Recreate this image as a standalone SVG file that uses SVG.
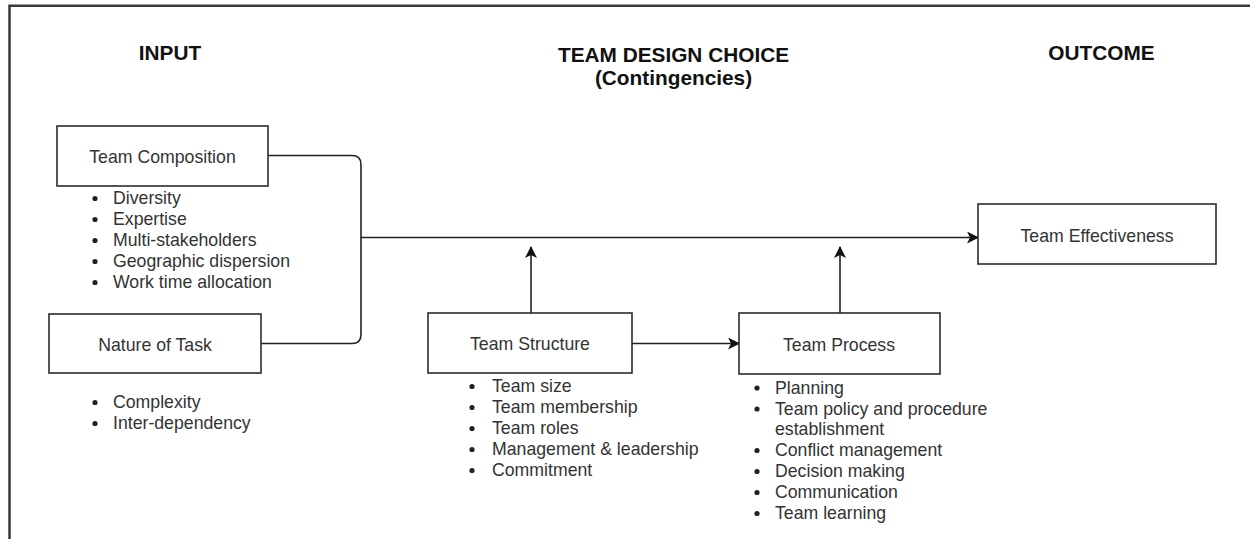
<svg xmlns="http://www.w3.org/2000/svg" width="1250" height="539" viewBox="0 0 1250 539">
  <style>
    .frame { fill: none; stroke: #3a3a3a; stroke-width: 2.5; }
    .box { fill: #ffffff; stroke: #2b2b2b; stroke-width: 1.6; }
    .head { font-family: "Liberation Sans", Arial, sans-serif; font-weight: bold; font-size: 20.8px; fill: #111111; text-anchor: middle; }
    .label { font-family: "Liberation Sans", Arial, sans-serif; font-size: 17.7px; fill: #333333; text-anchor: middle; }
    .item { font-family: "Liberation Sans", Arial, sans-serif; font-size: 17.7px; fill: #333333; }
    .dot { fill: #222222; }
    .link { fill: none; stroke: #222222; stroke-width: 1.6; }
  </style>
  <defs>
    <marker id="arrow" viewBox="0 0 12 12" refX="11" refY="6" markerWidth="12" markerHeight="12" markerUnits="userSpaceOnUse" orient="auto">
      <path d="M0,0 L12,6 L0,12 L3,6 Z" fill="#111111"/>
    </marker>
  </defs>

  <rect x="0" y="0" width="1250" height="539" fill="#ffffff"/>
  <!-- outer frame: top and left edges -->
  <path class="frame" d="M9.5,539 V5.8 H1250"/>

  <!-- column headings -->
  <g id="headings">
    <text class="head" x="170" y="60">INPUT</text>
    <text class="head" x="673.5" y="61.5">TEAM DESIGN CHOICE</text>
    <text class="head" x="673.5" y="84.5">(Contingencies)</text>
    <text class="head" x="1101.5" y="60">OUTCOME</text>
  </g>

  <!-- connectors -->
  <g id="connectors">
    <path class="link" d="M268,155.5 H352 Q361,155.5 361,164.5 V334.5 Q361,343.5 352,343.5 H261"/>
    <path class="link" d="M361,237.5 H978" marker-end="url(#arrow)"/>
    <path class="link" d="M531,313 V247" marker-end="url(#arrow)"/>
    <path class="link" d="M840,313 V247" marker-end="url(#arrow)"/>
    <path class="link" d="M632,343.5 H739" marker-end="url(#arrow)"/>
  </g>

  <!-- Team Composition -->
  <g id="team-composition">
    <rect class="box" x="57" y="126" width="211" height="60"/>
    <text class="label" x="162.5" y="163">Team Composition</text>
    <g class="dot">
      <circle cx="95" cy="198.5" r="2.6"/>
      <circle cx="95" cy="219.5" r="2.6"/>
      <circle cx="95" cy="240.5" r="2.6"/>
      <circle cx="95" cy="261.5" r="2.6"/>
      <circle cx="95" cy="282.5" r="2.6"/>
    </g>
    <text class="item" x="113" y="204">Diversity</text>
    <text class="item" x="113" y="225">Expertise</text>
    <text class="item" x="113" y="246">Multi-stakeholders</text>
    <text class="item" x="113" y="267">Geographic dispersion</text>
    <text class="item" x="113" y="288">Work time allocation</text>
  </g>

  <!-- Nature of Task -->
  <g id="nature-of-task">
    <rect class="box" x="49" y="314" width="212" height="59"/>
    <text class="label" x="155" y="351">Nature of Task</text>
    <g class="dot">
      <circle cx="95" cy="402.5" r="2.6"/>
      <circle cx="95" cy="423.5" r="2.6"/>
    </g>
    <text class="item" x="113" y="408">Complexity</text>
    <text class="item" x="113" y="429">Inter-dependency</text>
  </g>

  <!-- Team Structure -->
  <g id="team-structure">
    <rect class="box" x="428" y="313" width="204" height="60"/>
    <text class="label" x="530" y="350">Team Structure</text>
    <g class="dot">
      <circle cx="472" cy="386.5" r="2.6"/>
      <circle cx="472" cy="407.5" r="2.6"/>
      <circle cx="472" cy="428.5" r="2.6"/>
      <circle cx="472" cy="449.5" r="2.6"/>
      <circle cx="472" cy="470.5" r="2.6"/>
    </g>
    <text class="item" x="492" y="392">Team size</text>
    <text class="item" x="492" y="413">Team membership</text>
    <text class="item" x="492" y="434">Team roles</text>
    <text class="item" x="492" y="455">Management &amp; leadership</text>
    <text class="item" x="492" y="476">Commitment</text>
  </g>

  <!-- Team Process -->
  <g id="team-process">
    <rect class="box" x="739" y="313" width="201" height="61"/>
    <text class="label" x="839" y="351">Team Process</text>
    <g class="dot">
      <circle cx="757" cy="388" r="2.6"/>
      <circle cx="757" cy="409" r="2.6"/>
      <circle cx="757" cy="450.5" r="2.6"/>
      <circle cx="757" cy="471.5" r="2.6"/>
      <circle cx="757" cy="492.5" r="2.6"/>
      <circle cx="757" cy="513.5" r="2.6"/>
    </g>
    <text class="item" x="775" y="393.5">Planning</text>
    <text class="item" x="775" y="414.5">Team policy and procedure</text>
    <text class="item" x="775" y="435">establishment</text>
    <text class="item" x="775" y="456">Conflict management</text>
    <text class="item" x="775" y="477">Decision making</text>
    <text class="item" x="775" y="498">Communication</text>
    <text class="item" x="775" y="519">Team learning</text>
  </g>

  <!-- Team Effectiveness -->
  <g id="team-effectiveness">
    <rect class="box" x="978" y="204" width="238" height="60"/>
    <text class="label" x="1097" y="241.5">Team Effectiveness</text>
  </g>
</svg>
